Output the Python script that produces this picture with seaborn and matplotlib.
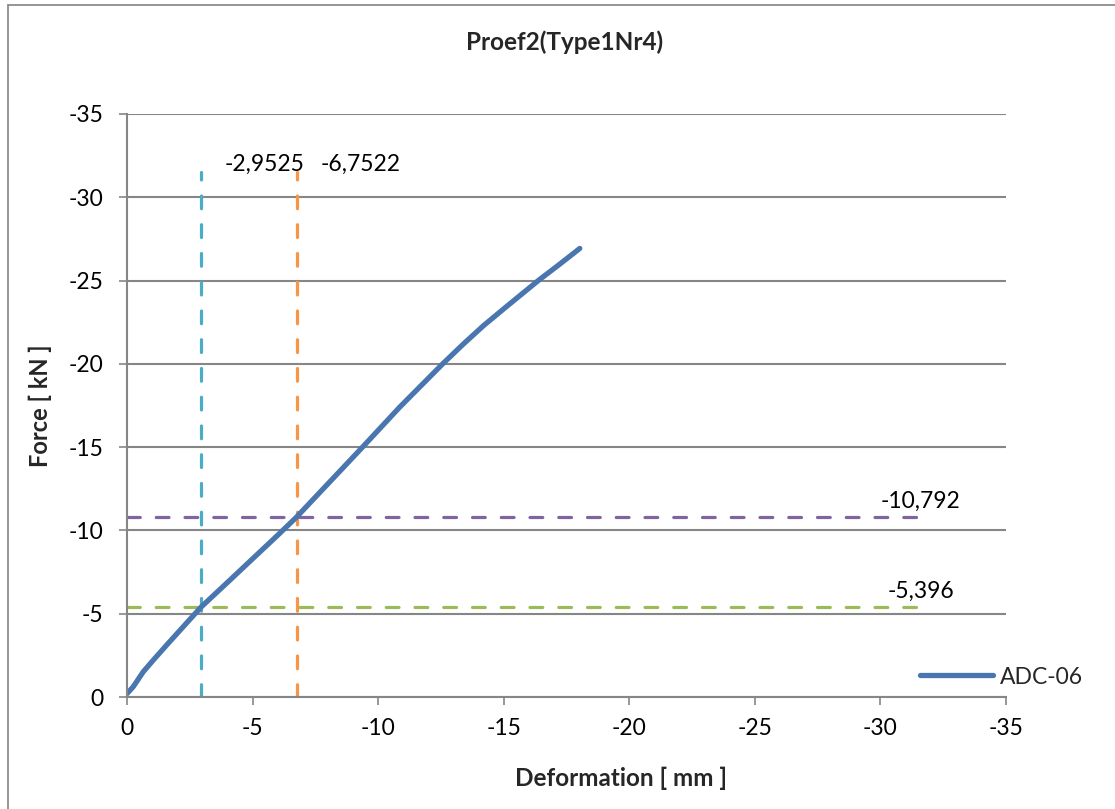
import matplotlib
matplotlib.use("Agg")
import matplotlib.pyplot as plt
from matplotlib.patches import Rectangle
import seaborn as sns
import pandas as pd

# Measured force-deformation curve of sensor ADC-06
deformation = [0.0, -0.25, -0.65, -1.05, -1.58, -2.24, -2.95, -4.10, -6.09,
               -6.75, -9.39, -10.87, -12.59, -13.40, -14.20, -15.20, -16.40,
               -17.20, -18.03]
force = [-0.2, -0.62, -1.52, -2.22, -3.12, -4.22, -5.40, -7.02, -9.84,
         -10.80, -15.02, -17.42, -20.03, -21.20, -22.30, -23.55, -25.03,
         -25.95, -26.93]

# Reference levels
vline_x = [-2.9525, -6.7522]
vline_colors = ["#4BACC6", "#F79646"]
hline_y = [-10.792, -5.396]
hline_colors = ["#8064A2", "#9BBB59"]
ref_extent = -31.5

tick_values = [0, -5, -10, -15, -20, -25, -30, -35]
tick_labels = ["0", "-5", "-10", "-15", "-20", "-25", "-30", "-35"]

sns.set_theme(style="white")
plt.rcParams["font.family"] = ["Lato", "DejaVu Sans"]

W, H = 1115, 809
fig = plt.figure(figsize=(W / 100, H / 100), dpi=100)
ax = fig.add_axes([127 / W, 1 - 697 / H, (1006 - 127) / W, (697 - 114) / H])

grid_c = "#868686"
dash = (4, 5)
fs = 16.5


def ref_line(x, y, color):
    d = pd.DataFrame({"x": x, "y": y})
    sns.lineplot(data=d, x="x", y="y", ax=ax, color=color, lw=2.3, sort=False,
                 estimator=None, errorbar=None, legend=False)
    ln = ax.lines[-1]
    ln.set_dashes(dash)
    ln.set_dash_capstyle("round")


# vertical reference lines
for xv, c in zip(vline_x, vline_colors):
    ref_line([xv, xv], [0, ref_extent], c)
    ax.annotate(f"{xv}".replace(".", ","), xy=(xv, ref_extent),
                xytext=(17, 6), textcoords="offset points",
                ha="left", va="center", fontsize=fs, color="black")

# horizontal reference lines
for yv, c in zip(hline_y, hline_colors):
    ref_line([0, ref_extent], [yv, yv], c)
    ax.annotate(f"{yv}".replace(".", ","), xy=(ref_extent, yv),
                xytext=(2, 4), textcoords="offset points",
                ha="center", va="bottom", fontsize=fs, color="black")

# measured curve
df = pd.DataFrame({"Deformation": deformation, "Force": force})
sns.lineplot(data=df, x="Deformation", y="Force", ax=ax, color="#4A76B0",
             lw=3.8, sort=False, estimator=None, errorbar=None, label="ADC-06")
curve = ax.lines[-1]
curve.set_solid_capstyle("round")
curve.set_solid_joinstyle("round")

ax.set_xlim(0, -35)
ax.set_ylim(0, -35)
ax.set_xticks(tick_values)
ax.set_xticklabels(tick_labels)
ax.set_yticks(tick_values)
ax.set_yticklabels(tick_labels)

ax.yaxis.grid(True, color=grid_c, lw=1.5)
ax.xaxis.grid(False)
ax.set_axisbelow(True)
for s in ["top", "right"]:
    ax.spines[s].set_visible(False)
for s in ["left", "bottom"]:
    ax.spines[s].set_color(grid_c)
    ax.spines[s].set_linewidth(1.5)

ax.tick_params(axis="both", which="major", direction="out", length=6,
               width=1.2, color=grid_c, labelsize=fs, labelcolor="black",
               bottom=True, left=True)
ax.tick_params(axis="x", pad=9)
ax.tick_params(axis="y", pad=11)

ax.set_xlabel("Deformation [ mm ]", fontsize=17.5, fontweight="bold")
ax.set_ylabel("Force [ kN ]", fontsize=17, fontweight="bold")
ax.xaxis.set_label_coords((621 - 127) / (1006 - 127), -(767 - 697) / (697 - 114))
ax.yaxis.set_label_coords(-(127 - 52) / (1006 - 127), 0.5)

fig.text(565 / W, 1 - 42 / H, "Proef2(Type1Nr4)", ha="center", va="center",
         fontsize=17.5, fontweight="bold")

leg = ax.legend(handles=[curve], labels=["ADC-06"], loc="center left",
                bbox_to_anchor=(920 / W, 1 - 677 / H),
                bbox_transform=fig.transFigure, frameon=False, fontsize=fs,
                handlelength=3.2, handletextpad=0.3, borderpad=0,
                borderaxespad=0)

# outer chart frame
fig.patches.append(Rectangle((8 / W, -0.5), 2.0, 1.5 - 5 / H,
                             transform=fig.transFigure, fill=False,
                             edgecolor="#8C8C8C", lw=1.3))

fig.savefig("out.png", dpi=100)
